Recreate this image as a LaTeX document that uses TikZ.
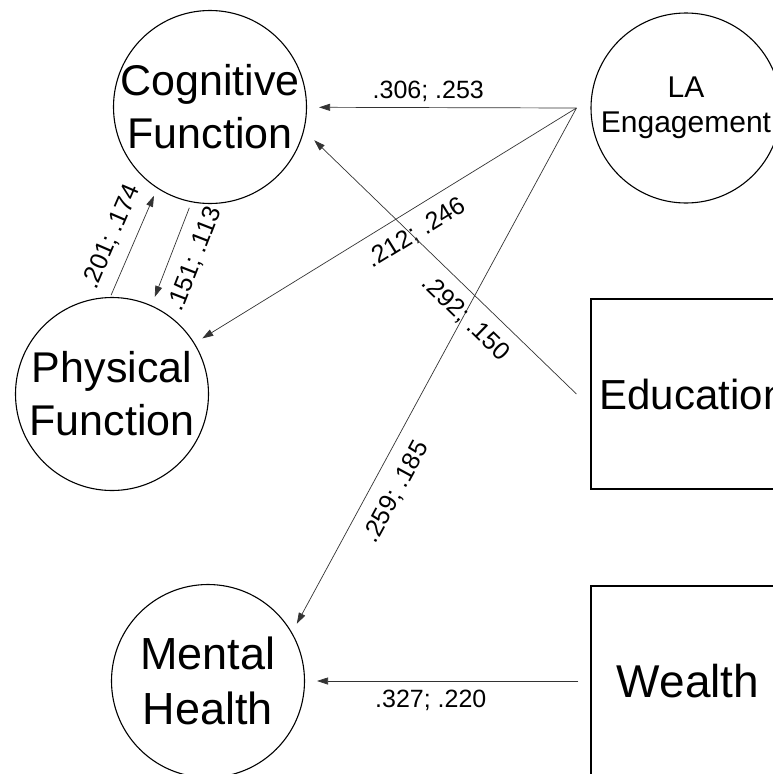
\documentclass[tikz,border=0pt]{standalone}
\usepackage{fontspec}
\setmainfont{Liberation Sans}
\usetikzlibrary{arrows.meta}
\usetikzlibrary{calc}
\tikzset{
  latent/.style={circle, draw, line width=1.1pt, minimum size=193pt, inner sep=-20pt, align=center, font=\fontsize{43}{53}\selectfont},
  observed/.style={rectangle, draw, line width=1.1pt, minimum height=190pt},
  effect/.style={->, draw=black!80, line width=0.7pt},
  coef/.style={font=\fontsize{25}{30}\selectfont, inner sep=3pt}
}

\begin{document}
\begin{tikzpicture}[x=1pt, y=-1pt, >={Triangle[length=11pt,width=7pt]}]
  \useasboundingbox (0,0) rectangle (773,774);
  \clip (0,0) rectangle (773,774);

  % outcomes
  \node[latent] (cog) at (210,107) {Cognitive\\Function};
  \node[latent] (phys) at (112,394) {Physical\\Function};
  \node[latent, font=\fontsize{45}{55}\selectfont] (mental) at (208,681) {Mental\\Health};

  % predictors
  \node[latent, minimum size=190pt, font=\fontsize{30}{35}\selectfont] (la) at (686,108) {LA\\Engagement};
  \node[observed, minimum width=204pt, font=\fontsize{42}{50}\selectfont] (edu) at (693,394) {Education};
  \node[observed, minimum width=194pt, font=\fontsize{46}{55}\selectfont] (wealth) at (688,681) {Wealth};

  \coordinate (la-out) at ([xshift=-14pt]la.west);
  \coordinate (edu-out) at ([xshift=-14pt]edu.west);
  \coordinate (wealth-out) at ([xshift=-12pt]wealth.west);

  \draw[effect, shorten >=12pt] (la-out) -- node[coef, above=3pt, pos=0.55] {.306; .253} (cog);
  \draw[effect, shorten >=9pt] (la-out) -- node[coef, sloped, below=9pt, pos=0.45] {.212; .246} (phys);
  \draw[effect, shorten >=10pt] (la-out) -- node[coef, sloped, below=11pt, pos=0.71] {.259; .185} (mental.30);
  \draw[effect, shorten >=14pt] (edu-out) -- node[coef, sloped, below=9pt, pos=0.35] {.292; .150} (cog.-14);
  \draw[effect, shorten >=12pt] (wealth-out) -- node[coef, below=6pt, pos=0.54] {.327; .220} (mental);

  \draw[effect, shorten <=2pt, shorten >=8pt] (phys.91) -- node[coef, sloped, above=9pt, pos=0.47] {.201; .174} (cog.-123);
  \draw[effect, shorten <=6pt, shorten >=9pt] (cog.-101) -- node[coef, sloped, below=10pt, pos=0.47] {.151; .113} (phys.66);

\end{tikzpicture}
\end{document}
